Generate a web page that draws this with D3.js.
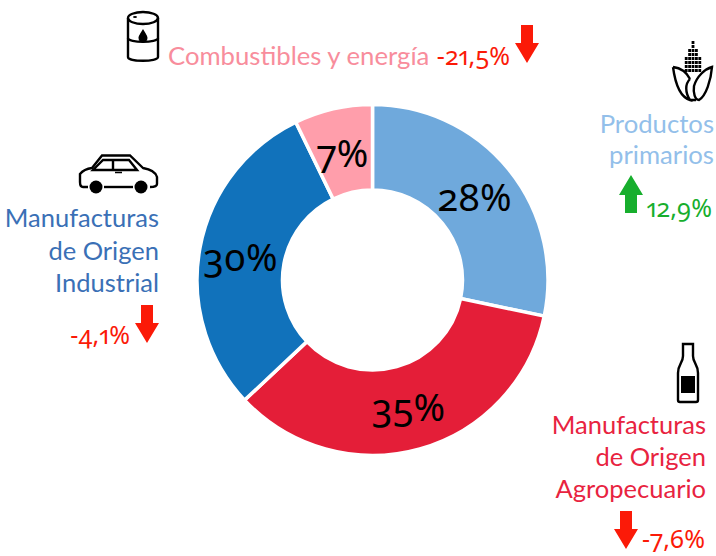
<!DOCTYPE html>
<html>
<head>
<meta charset="utf-8">
<script src="https://cdn.jsdelivr.net/npm/d3@7"></script>
<style>
  body { margin: 0; background: #fff; }
  svg { display: block; }
  text { font-family: Lato, "Open Sans", sans-serif; }
  text.num { font-family: "Noto Sans", Lato, sans-serif; font-feature-settings: "onum" 1, "pnum" 1; font-variant-numeric: oldstyle-nums proportional-nums; }
</style>
</head>
<body>
<div id="chartDiv"></div>
<script>
const categories = ['Productos primarios', 'Manufacturas de Origen Agropecuario', 'Manufacturas de Origen Industrial', 'Combustibles y energía'];
// slice sizes, the printed labels are these rounded
const shares = [28.3, 34.7, 29.8, 7.2];
const changes = ['12,9%', '-7,6%', '-4,1%', '-21,5%'];
const sliceColors = ['#6fa9dc', '#e41e38', '#1172bb', '#ff9eab'];

const w = 716, h = 556;
const center = { x: 372.5, y: 280 };
const red = '#fb1a08', green = '#17ae2d';

const svgObj = d3.select('#chartDiv').append('svg').attr('width', w).attr('height', h);

// donut
const pieFn = d3.pie().sort(null).value(d => d);
const arcFn = d3.arc().innerRadius(90).outerRadius(175.5);
const pieG = svgObj.append('g').attr('transform', `translate(${center.x},${center.y})`);

pieG.selectAll('path')
  .data(pieFn(shares))
  .enter().append('path')
  .attr('d', arcFn)
  .attr('fill', (d, i) => sliceColors[i])
  .attr('stroke', '#fff')
  .attr('stroke-width', 3.5);

// slice labels sit by hand, not on the centroid
const pctPos = [[102, -81], [36, 129], [-132, -21], [-30, -125]];
pieG.selectAll('text')
  .data(shares)
  .enter().append('text')
  .attr('class', 'num')
  .attr('x', (d, i) => pctPos[i][0])
  .attr('y', (d, i) => pctPos[i][1] + 12)
  .attr('text-anchor', 'middle')
  .attr('font-size', 38)
  .attr('fill', '#000')
  .text(d => Math.round(d) + '%');

function addLines(lines, x, y0, step, color, size) {
  lines.forEach((t, i) => {
    svgObj.append('text')
      .attr('x', x).attr('y', y0 + i * step)
      .attr('text-anchor', 'end')
      .attr('font-size', size)
      .attr('fill', color)
      .text(t);
  });
}

function addChange(t, x, y, color) {
  svgObj.append('text')
    .attr('class', 'num')
    .attr('x', x).attr('y', y)
    .attr('text-anchor', 'end')
    .attr('font-size', 25)
    .attr('fill', color)
    .text(t);
}

// block arrow, tip at (x, y), dir 1 points down, -1 up
function addArrow(x, y, dir, color) {
  const p = [[0, 0], [-12, -20], [-6, -20], [-6, -38], [6, -38], [6, -20], [12, -20]]
    .map(q => [x + q[0], y + q[1] * dir]);
  svgObj.append('path').attr('d', d3.line()(p) + 'Z').attr('fill', color);
}

// labels
svgObj.append('text').attr('x', 168).attr('y', 65).attr('font-size', 25.7).attr('fill', '#f88d9c').text('Combustibles y energía');
addChange(changes[3], 510, 65, red);
addArrow(527, 63, 1, red);

addLines(['Productos', 'primarios'], 714, 133, 31, '#93bfea', 25.7);
addArrow(631, 175, -1, green);
addChange(changes[0], 712, 217, green);

addLines(['Manufacturas', 'de Origen', 'Industrial'], 159, 227, 32.5, '#3a70b6', 25.5);
addChange(changes[2], 130, 344, red);
addArrow(147, 343, 1, red);

addLines(['Manufacturas', 'de Origen', 'Agropecuario'], 706, 434, 32, '#e8233f', 25.5);
addArrow(626, 549, 1, red);
addChange(changes[1], 705, 548, red);

// icons, black outlines
const icons = svgObj.append('g').attr('fill', 'none').attr('stroke', '#000').attr('stroke-width', 2.4);

// barrel
const barrel = icons.append('g').attr('transform', 'translate(143,35)');
barrel.append('path').attr('d', 'M-15,-17 V22 C-15,27 15,27 15,22 V-17');
barrel.append('ellipse').attr('cx', 0).attr('cy', -17).attr('rx', 15).attr('ry', 6);
barrel.append('path').attr('d', 'M-15,3 C-15,8 15,8 15,3');
barrel.append('path').attr('d', 'M0,-6 C-3,-1 -4.5,1 -4.5,3 A4.5,4.5 0 0 0 4.5,3 C4.5,1 3,-1 0,-6Z').attr('fill', '#000').attr('stroke', 'none');
barrel.append('ellipse').attr('cx', -8).attr('cy', -18).attr('rx', 2).attr('ry', 1).attr('fill', '#000').attr('stroke', 'none');

// corn
const corn = icons.append('g').attr('transform', 'translate(693,70)');
[[-29, 1], [-25, 3], [-21, 5], [-17, 6], [-13, 7], [-9, 8], [-5, 8.5], [-1, 8.5]].forEach(r => {
  for (let k = -2; k <= 2; k++) {
    if (Math.abs(k) * 3.4 <= r[1]) {
      corn.append('rect').attr('x', k * 3.4 - 1.4).attr('y', r[0]).attr('width', 2.8).attr('height', 3).attr('fill', '#000').attr('stroke', 'none');
    }
  }
});
corn.append('path').attr('d', 'M-20,-3 C-12,-2 -6,3 -3,9 M-20,-3 C-18,12 -13,27 -3,30 C-8,22 -8,14 -3,9 M-3,30 H3');
corn.append('path').attr('d', 'M19,-3 C12,-1 4,6 1,16 C0,23 2,30 6,30 C13,26 18,10 19,-3Z');

// car
const car = icons.append('g');
car.append('path').attr('d', 'M88,187 H83 Q80,187 80,182 V174 Q84,169 92,168 L102,155.5 H130 L143,168 Q155,170 157,177 V184 Q157,187 150,187');
car.append('path').attr('d', 'M104,187 H133');
car.append('path').attr('d', 'M93,170 L103,160 H129 L137,170 Z M113,160 V170');
car.append('path').attr('d', 'M115,172.5 H122').attr('stroke-width', 1.5);
car.append('circle').attr('cx', 96).attr('cy', 187).attr('r', 6.5).attr('fill', '#000').attr('stroke', 'none');
car.append('circle').attr('cx', 141).attr('cy', 187).attr('r', 6.5).attr('fill', '#000').attr('stroke', 'none');

// bottle
const bottle = icons.append('g').attr('transform', 'translate(688,372)');
bottle.append('path').attr('d', 'M-5,-28 H5 V-16 C5,-9 10,-8 10,1 V28 C10,29 9,30 8,30 H-8 C-9,30 -10,29 -10,28 V1 C-10,-8 -5,-9 -5,-16 Z');
bottle.append('rect').attr('x', -7).attr('y', 4).attr('width', 14).attr('height', 17).attr('fill', '#000').attr('stroke', 'none');
</script>
</body>
</html>
